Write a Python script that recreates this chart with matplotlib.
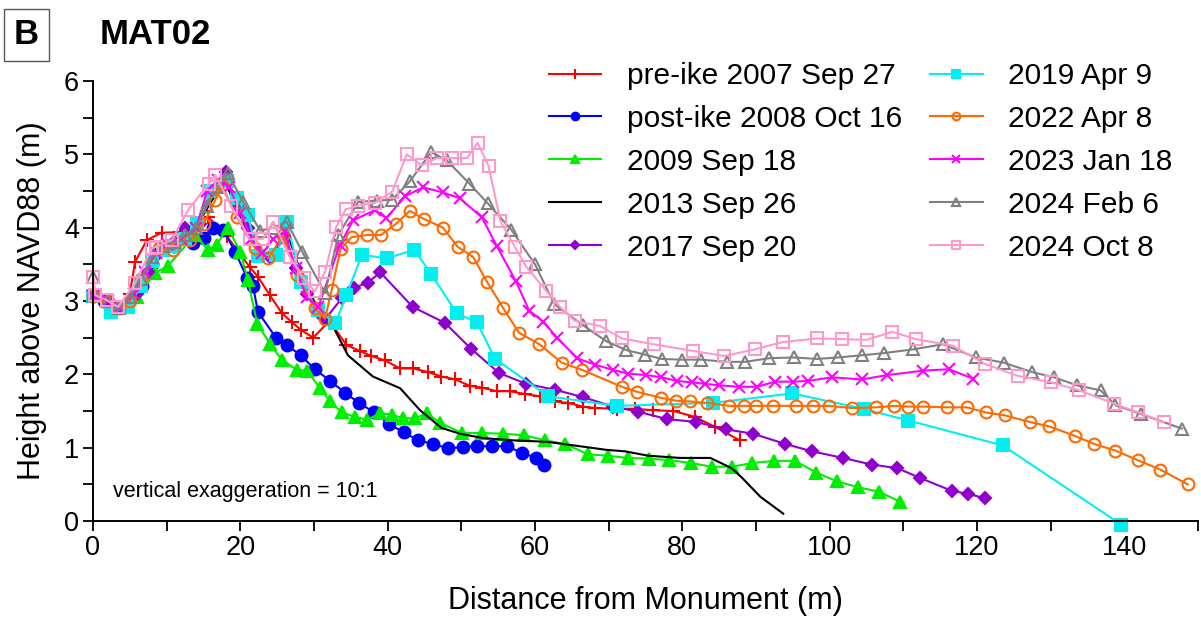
import matplotlib
matplotlib.use("Agg")
import matplotlib.pyplot as plt
from matplotlib.ticker import MultipleLocator

plt.rcParams['font.family'] = ['Liberation Sans', 'DejaVu Sans']

# Profile data: distance from monument (m), height above NAVD88 (m)
red_x = [0, 1.5, 3.5, 5, 5.7, 7.3, 9.3, 11.8, 15.6, 18.2, 21.3, 22.4, 24, 25.6, 27, 28.3, 29.9, 32.1, 34.4, 36.2,
         37.8, 39.6, 41.7, 43.5, 45.5, 47.3, 49.2, 51.2, 52.8, 54.8, 56.6, 58.7, 60.7, 62.7, 64.5, 66.5, 68.2,
         71.1, 73.6, 76, 78.8, 81.7, 84.5, 87.8]
red_y = [3.07, 3.0, 2.9, 3.1, 3.53, 3.83, 3.93, 3.94, 4.15, 3.88, 3.46, 3.33, 3.08, 2.84, 2.71, 2.6, 2.5, 2.73, 2.4, 2.32,
         2.25, 2.19, 2.08, 2.08, 2.03, 1.97, 1.93, 1.84, 1.82, 1.77, 1.77, 1.73, 1.7, 1.63, 1.61, 1.56, 1.54,
         1.53, 1.53, 1.51, 1.5, 1.42, 1.28, 1.1]

blue_x = [0, 1.5, 3, 4.6, 6.6, 8, 9.1, 11, 13.6, 15, 16.3, 17.7, 19.3, 20.9, 21.7, 22.4, 24.9, 26.3, 28.2, 30.1,
          32.2, 34.2, 36.1, 38.2, 40.2, 42.2, 44.1, 46.2, 48.2, 50.2, 52.1, 54.2, 56.2, 58.2, 60.2, 61.2]
blue_y = [3.07, 3.0, 2.9, 2.95, 3.2, 3.5, 3.7, 3.75, 3.79, 3.86, 4.0, 3.97, 3.67, 3.32, 3.21, 2.85, 2.49, 2.4, 2.26, 2.07,
          1.91, 1.75, 1.61, 1.48, 1.32, 1.21, 1.1, 1.05, 0.99, 1.01, 1.02, 1.02, 1.02, 0.93, 0.86, 0.76]

green_x = [0, 2, 4, 6, 8.4, 10.2, 13.8, 15.6, 16.8, 18.3, 20, 21, 22.3, 24, 25.6, 27.7, 29.1, 30.8, 32.2, 33.8,
           35.6, 37.2, 39, 40.6, 42.1, 43.7, 45.3, 47.1, 50.1, 52.8, 55.7, 58.5, 61.4, 64.1, 67.2, 69.9, 72.6,
           75.5, 78.2, 81.2, 84, 86.7, 89.5, 92.5, 95.3, 98.2, 101, 103.9, 106.7, 109.6]
green_y = [3.07, 3.0, 2.92, 3.05, 3.38, 3.48, 3.9, 3.7, 3.77, 4.0, 3.67, 3.29, 2.69, 2.42, 2.2, 2.06, 2.05, 1.81, 1.63, 1.48,
           1.42, 1.38, 1.47, 1.45, 1.4, 1.4, 1.47, 1.34, 1.2, 1.2, 1.19, 1.17, 1.1, 1.05, 0.91, 0.89, 0.86,
           0.85, 0.83, 0.79, 0.74, 0.74, 0.79, 0.82, 0.82, 0.66, 0.54, 0.46, 0.4, 0.26]

black_x = [0, 2, 4, 6, 8, 10, 12, 14, 16, 17, 18, 19.3, 21, 22.5, 24, 25.2, 26.3, 28, 30, 31.5,
           32.6, 34.6, 38, 41.7, 44.4, 47.3, 49.8, 53, 57, 61.6, 66.8, 69.7, 72.2, 75.4, 79.7, 83.8, 86.7, 88.1,
           90.6, 93.7]
black_y = [3.07, 3.0, 2.9, 3.1, 3.5, 3.75, 3.85, 4.0, 4.35, 4.5, 4.62, 4.3, 3.95, 3.65, 3.55, 3.75, 3.95, 3.45, 3.0, 2.8,
           2.65, 2.26, 1.97, 1.81, 1.51, 1.27, 1.19, 1.13, 1.1, 1.08, 1.01, 0.97, 0.95, 0.89, 0.86, 0.86, 0.72, 0.59,
           0.33, 0.1]

purple_x = [0, 2, 4, 6, 7.5, 9, 11, 12.5, 14.5, 16, 18, 19.5, 21, 22.5, 24, 26, 27.5, 29, 30.5, 31.5,
            33.8, 35.4, 37.3, 39, 43.4, 47.8, 51.3, 55.1, 58.8, 62.7, 66.5, 70.6, 74, 77.9, 81.9, 85.9, 89.6,
            94, 97.6, 101.8, 105.7, 109.2, 112.2, 116.6, 118.8, 121.1]
purple_y = [3.07, 3.0, 2.9, 3.1, 3.4, 3.65, 3.8, 4.0, 4.05, 4.5, 4.76, 4.3, 4.0, 3.65, 3.6, 3.85, 3.45, 3.1, 2.85, 2.75,
            3.04, 3.18, 3.25, 3.39, 2.92, 2.7, 2.35, 2.02, 1.87, 1.79, 1.69, 1.56, 1.49, 1.39, 1.35, 1.25, 1.19,
            1.05, 0.95, 0.86, 0.77, 0.72, 0.59, 0.41, 0.37, 0.31]

cyan_x = [0, 2.5, 4.8, 6.5, 8, 9.5, 11, 12.5, 14.1, 16, 18.2, 19.5, 21, 22.4, 24.9, 26.3, 28.3, 30.5, 32.9, 34.4,
          36.5, 39.9, 43.6, 45.9, 49.4, 52.1, 54.6, 61.8, 71.1, 84.1, 94.9, 104.6, 110.7, 123.5, 139.6]
cyan_y = [3.07, 2.85, 2.92, 3.2, 3.55, 3.7, 3.75, 3.85, 4.06, 4.5, 4.64, 4.4, 4.17, 3.62, 3.63, 4.08, 3.26, 2.88, 2.7, 3.08,
          3.63, 3.58, 3.7, 3.37, 2.83, 2.71, 2.21, 1.7, 1.57, 1.61, 1.74, 1.53, 1.37, 1.03, -0.05]

orange_x = [0, 2, 3.5, 5, 6.5, 8.9, 10.9, 13.2, 15, 16.6, 17.5, 19.5, 22, 23.8, 25.8, 27.7, 30.1, 31.5, 32.4, 33.6,
            35.1, 37.2, 39.1, 41.1, 43, 44.9, 47.5, 49.5, 51.6, 53.5, 55.7, 57.8, 60.6, 63.6, 66.4, 71.8, 73.9,
            77.1, 79.2, 81.1, 83.3, 86.4, 88.4, 90, 92.3, 95.4, 97.7, 99.9, 103, 106.3, 108.8, 110.7, 112.7,
            115.9, 118.6, 121.2, 123.8, 127.2, 129.8, 133.3, 135.9, 138.8, 141.8, 144.9, 148.6]
orange_y = [3.07, 3.0, 2.9, 3.0, 3.3, 3.72, 3.7, 3.83, 4.05, 4.38, 4.58, 4.15, 3.72, 3.58, 3.9, 3.35, 2.9, 2.76, 3.15, 3.71,
            3.87, 3.9, 3.9, 4.05, 4.23, 4.12, 4.0, 3.74, 3.6, 3.26, 2.9, 2.57, 2.41, 2.16, 2.06, 1.83, 1.76,
            1.68, 1.64, 1.63, 1.61, 1.57, 1.57, 1.57, 1.57, 1.57, 1.57, 1.57, 1.54, 1.55, 1.57, 1.56, 1.56,
            1.55, 1.55, 1.48, 1.44, 1.35, 1.29, 1.16, 1.05, 0.96, 0.83, 0.7, 0.5]

magenta_x = [0, 2, 3.5, 5.5, 7, 8.5, 10, 12, 14, 15.5, 17, 18.5, 20, 21.5, 23, 24.5, 26, 27.5, 29, 30.6,
             33.5, 35.3, 38.3, 39.8, 42.4, 44.8, 47.5, 49.8, 52.8, 54.8, 57.4, 59.2, 61.1, 63, 65.7, 68.2, 70.6,
             72.6, 75.1, 77.1, 79.3, 81.3, 83.1, 85, 87.7, 90.1, 92.6, 95, 97.1, 100.3, 104.4, 107.8, 112.7,
             116.2, 119.5]
magenta_y = [3.07, 3.0, 2.9, 3.1, 3.4, 3.65, 3.78, 3.85, 4.0, 4.5, 4.65, 4.55, 4.2, 3.85, 3.65, 3.85, 3.95, 3.45, 3.05, 2.92,
             3.76, 4.1, 4.24, 4.13, 4.43, 4.55, 4.48, 4.4, 4.14, 3.75, 3.27, 2.87, 2.72, 2.5, 2.22, 2.13, 2.06,
             2.01, 1.99, 1.96, 1.91, 1.89, 1.87, 1.85, 1.83, 1.83, 1.9, 1.9, 1.91, 1.96, 1.93, 1.99, 2.05,
             2.07, 1.94]

gray_x = [0, 0.3, 2, 3.5, 5, 6.5, 8, 9.5, 11, 12.5, 14, 15.5, 17, 18.3, 20.4, 22.7, 24.5, 26.3, 28.4, 31.5,
          33.3, 36, 38.5, 40.6, 43, 45.9, 48, 51.1, 53.6, 56.8, 60, 62.6, 66.5, 69.7, 72.4, 74.9, 77.2, 79.9,
          82.6, 86, 88.5, 91.8, 95.1, 98.3, 101.1, 104.4, 107.4, 111.3, 115.4, 119.8, 123.6, 127.5, 130.4,
          133.6, 136.8, 138.8, 142.2, 147.8]
gray_y = [3.33, 3.08, 3.0, 2.9, 3.05, 3.3, 3.6, 3.75, 3.8, 3.9, 4.0, 4.3, 4.55, 4.74, 4.35, 3.96, 4.0, 4.08, 3.67, 3.11,
          3.9, 4.35, 4.37, 4.38, 4.63, 5.03, 4.92, 4.6, 4.33, 3.97, 3.5, 2.96, 2.67, 2.45, 2.33, 2.27, 2.21, 2.2,
          2.2, 2.17, 2.17, 2.22, 2.23, 2.21, 2.23, 2.26, 2.29, 2.34, 2.41, 2.23, 2.16, 2.03, 1.96,
          1.85, 1.78, 1.58, 1.46, 1.26]

pink_x = [0, 0.3, 1.9, 3.4, 5.7, 8, 8.6, 10.7, 12.9, 15.7, 16.6, 18.8, 21.3, 23.1, 24.5, 26.7, 28.6, 30.1, 31.5, 33,
          34.3, 36, 38.3, 40.6, 42.6, 44.6, 46.7, 48.8, 50.8, 52.2, 53.7, 55.3, 57.3, 58.8, 61.5, 63.4, 65.4,
          68.8, 71.8, 76.1, 81.4, 85.7, 89.8, 93.6, 98.3, 101.7, 105, 108.5, 111.7, 116.7, 121.1, 125.5,
          130.1, 133.9, 138.6, 141.9, 145.4]
pink_y = [3.33, 3.08, 3.01, 2.92, 3.24, 3.72, 3.74, 3.83, 4.24, 4.6, 4.72, 4.29, 3.84, 3.85, 4.08, 3.6, 3.31, 3.13, 3.4, 4.01,
          4.25, 4.3, 4.34, 4.49, 5.0, 4.85, 4.95, 4.95, 4.95, 5.16, 4.84, 4.09, 3.73, 3.47, 3.14, 2.92, 2.73,
          2.66, 2.49, 2.41, 2.32, 2.25, 2.34, 2.44, 2.49, 2.48, 2.47, 2.58, 2.48, 2.39, 2.14, 1.98,
          1.89, 1.78, 1.6, 1.48, 1.35]

labels = ["pre-ike 2007 Sep 27", "post-ike 2008 Oct 16", "2009 Sep 18", "2013 Sep 26", "2017 Sep 20",
          "2019 Apr 9", "2022 Apr 8", "2023 Jan 18", "2024 Feb 6", "2024 Oct 8"]

x_ticks = [0, 20, 40, 60, 80, 100, 120, 140]
y_ticks = [0, 1, 2, 3, 4, 5, 6]

# (x, y, colour, marker, size, filled)
series = [
    (red_x, red_y, '#ff0000', '+', 10, True),
    (blue_x, blue_y, '#0000ff', 'o', 8.5, True),
    (green_x, green_y, '#00ee00', '^', 8, True),
    (black_x, black_y, '#000000', '', 0, True),
    (purple_x, purple_y, '#8f00cc', 'D', 6.5, True),
    (cyan_x, cyan_y, '#00f0f0', 's', 8, True),
    (orange_x, orange_y, '#ff6a00', 'o', 8.5, False),
    (magenta_x, magenta_y, '#ff00ff', 'x', 8.5, True),
    (gray_x, gray_y, '#808080', '^', 8, False),
    (pink_x, pink_y, '#ff99cc', 's', 9, False),
]

fig = plt.figure(figsize=(12.01, 6.21), dpi=100)
ax = fig.add_axes([93 / 1201, 1 - 521 / 621, 1105 / 1201, 440 / 621])

for (xs, ys, col, mk, ms, filled), lab in zip(series, labels):
    face = col if filled else 'none'
    ax.plot(xs, ys, color=col, marker=mk, markersize=ms, markerfacecolor=face,
            markeredgecolor=col, markeredgewidth=1.5, linewidth=1.5, label=lab, clip_on=False)

ax.set_xlim(0, 150)
ax.set_ylim(0, 6)
ax.set_xticks(x_ticks)
ax.set_yticks(y_ticks)
ax.xaxis.set_minor_locator(MultipleLocator(10))
ax.yaxis.set_minor_locator(MultipleLocator(0.5))
ax.tick_params(which='both', direction='out', length=7, width=1.3, labelsize=19.5, pad=3)

for side in ['top', 'right']:
    ax.spines[side].set_visible(False)
for side in ['left', 'bottom']:
    ax.spines[side].set_linewidth(1.4)

ax.set_xlabel("Distance from Monument (m)", fontsize=22, labelpad=18)
ax.set_ylabel("Height above NAVD88 (m)", fontsize=22, labelpad=12)

fig.text(113 / 1201, 1 - 491 / 621, "vertical exaggeration = 10:1", fontsize=15.5, va='center', ha='left')

leg = ax.legend(ncol=2, frameon=False, fontsize=21.5, loc='upper left',
                bbox_to_anchor=(549 / 1201, 1 - 62 / 621), bbox_transform=fig.transFigure,
                borderpad=0, borderaxespad=0, handlelength=1.75, handletextpad=0.85,
                columnspacing=0.95, labelspacing=0.5, markerscale=0.65, numpoints=1)

# panel label and site name
fig.text(26.5 / 1201, 1 - 35 / 621, "B", fontsize=25, fontweight='bold', ha='center', va='center',
         bbox=dict(boxstyle='square,pad=0.28', facecolor='white', edgecolor='#555555', linewidth=1))
fig.text(100 / 1201, 1 - 35 / 621, "MAT02", fontsize=25, fontweight='bold', ha='left', va='center')

fig.savefig("out.png", dpi=100)
